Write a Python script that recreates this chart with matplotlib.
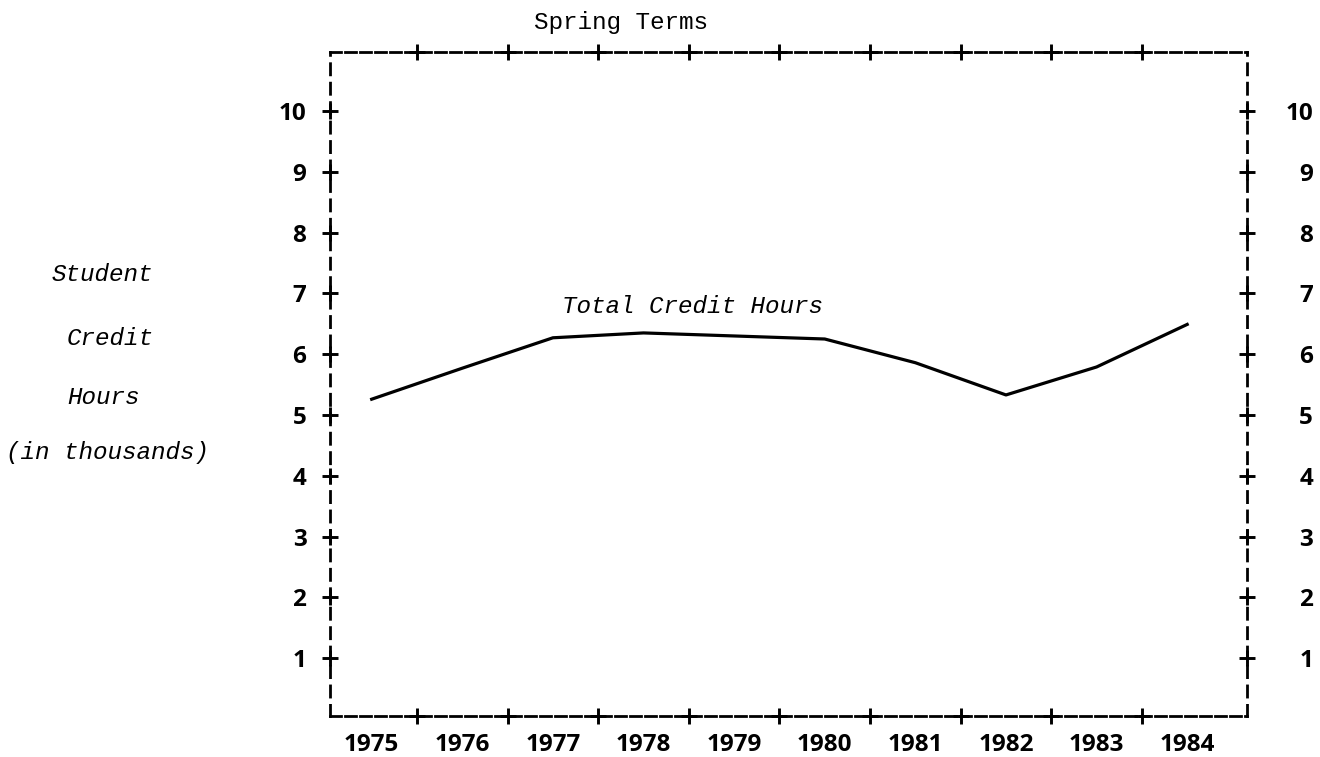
import matplotlib
matplotlib.use("Agg")
import matplotlib.pyplot as plt
import matplotlib.transforms as mtransforms

plt.rcParams['lines.scale_dashes'] = False

# data (thousands of credit hours, spring terms)
years = [1975, 1976, 1977, 1978, 1979, 1980, 1981, 1982, 1983, 1984]
hours = [5.26, 5.77, 6.27, 6.35, 6.30, 6.25, 5.86, 5.33, 5.79, 6.49]
y_ticks = [1, 2, 3, 4, 5, 6, 7, 8, 9, 10]
ylabel_lines = ["Student", "Credit", "Hours", "(in thousands)"]

W, H = 1320, 757
fig = plt.figure(figsize=(W / 100, H / 100), dpi=100)
ax = fig.add_axes([330 / W, 1 - 716 / H, (1247 - 330) / W, (716 - 52) / H])

mono = "Liberation Mono"
num_font = dict(family="Open Sans", weight="bold", size=17.5)

# the line
ax.plot(years, hours, color="black", lw=2.3, solid_joinstyle="round")

ax.set_xlim(1974.54, 1984.66)
ax.set_ylim(0.05, 10.97)

# dashed frame
for side in ["top", "bottom"]:
    ax.spines[side].set_linestyle((0, (7.9, 2.9)))
    ax.spines[side].set_linewidth(2.0)
for side in ["left", "right"]:
    ax.spines[side].set_linestyle((0, (8, 6)))
    ax.spines[side].set_linewidth(2.0)

# tick labels: bottom and left through the axes, right side as text
ax.set_xticks(years)
ax.set_xticklabels([str(y) for y in years], fontdict=num_font)
ax.set_yticks(y_ticks)
ax.set_yticklabels([str(v) for v in y_ticks], fontdict=num_font)
ax.tick_params(axis="x", length=0, pad=12)
ax.tick_params(axis="y", length=0, pad=17)

ytrans = mtransforms.blended_transform_factory(ax.transAxes, ax.transData)
xtrans = mtransforms.blended_transform_factory(ax.transData, ax.transAxes)
right_trans = mtransforms.offset_copy(ytrans, fig=fig, x=66, y=0, units="dots")
for v in y_ticks:
    ax.text(1, v, str(v), transform=right_trans, ha="right",
            va="center_baseline", **num_font)

# '+' tick marks on the frame
for xpos in [0, 1]:
    ax.plot([xpos] * len(y_ticks), y_ticks, transform=ytrans, ls="none",
            marker="+", ms=12, mew=2.1, color="black", clip_on=False)
bounds = [y + 0.5 for y in years[:-1]]
for ypos in [0, 1]:
    ax.plot(bounds, [ypos] * len(bounds), transform=xtrans, ls="none",
            marker="+", ms=12, mew=2.1, color="black", clip_on=False)

# texts
fig.text(621 / W, 1 - 22 / H, "Spring Terms", family=mono, size=17.5,
         ha="center", va="center")
ax.text(1977.1, 6.78, "Total Credit Hours", family=mono, style="italic",
        size=17.5, ha="left", va="center")

label_x = [52, 67, 67, 6]
label_y = [275, 338, 398, 452]
for txt, lx, ly in zip(ylabel_lines, label_x, label_y):
    fig.text(lx / W, 1 - ly / H, txt, family=mono, style="italic",
             size=17.5, ha="left", va="center")

fig.savefig("out.png", dpi=100, facecolor="white")
